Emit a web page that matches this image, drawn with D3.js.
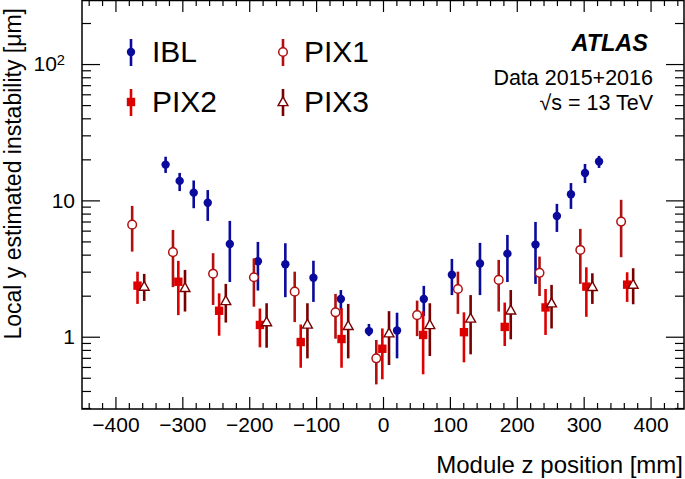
<!DOCTYPE html>
<html><head><meta charset="utf-8">
<script src="https://cdn.jsdelivr.net/npm/d3@7"></script>
<style>
body{margin:0;background:#fff}
svg{display:block;font-family:"Liberation Sans",Arial,Helvetica,sans-serif}
</style>
</head><body>
<svg id="c" width="685" height="479"></svg>
<script>
// ---- data ----
const iblZ   = [-325,-304,-283,-262,-229,-187,-146,-104,-63,-21,21,61,103,145,186,228,260,281,302,323];
const iblVal = [18.3,13.9,11.4,9.6,4.79,3.58,3.40,2.71,1.89,1.10,1.11,1.89,2.85,3.44,4.07,4.74,7.69,11.1,15.9,19.3];
const iblLo  = [15.9,11.7,8.76,7.07,2.52,2.18,1.95,1.80,1.57,1.01,0.694,1.42,2.02,2.02,2.52,2.44,5.87,8.66,13.4,17.3];
const iblHi  = [20.9,15.9,14.0,11.9,7.07,4.96,4.85,3.61,2.20,1.24,1.50,2.36,3.72,4.88,5.58,6.95,9.43,13.4,18.5,21.2];

const pix1Z   = [-375,-314,-254,-193,-132,-71,-10,51,112,173,234,295,356];
const pix1Val = [6.64,4.17,2.90,2.73,2.14,1.51,0.694,1.44,2.24,2.61,2.94,4.33,6.99];
const pix1Lo  = [4.21,2.31,1.71,1.66,1.28,0.967,0.447,1.01,1.47,1.53,1.99,2.44,3.83];
const pix1Hi  = [9.11,6.07,4.10,3.76,3.00,2.06,0.946,1.84,3.00,3.66,3.87,6.18,10.1];

const pix2Z   = [-367,-306,-245,-184,-123,-62,-1,60,121,182,243,304,365];
const pix2Val = [2.37,2.53,1.55,1.22,0.914,0.962,0.816,1.03,1.08,1.18,1.64,2.33,2.41];
const pix2Lo  = [1.74,1.44,1.017,0.836,0.592,0.592,0.487,0.530,0.649,0.855,1.03,1.40,1.80];
const pix2Hi  = [3.00,3.60,2.08,1.61,1.23,1.62,1.15,1.54,1.51,1.78,2.24,3.23,2.97];

const pix3Z   = [-357,-296,-235,-174,-113,-52,9,70,131,191,252,313,374];
const pix3Val = [2.33,2.28,1.83,1.28,1.23,1.20,1.06,1.22,1.36,1.56,1.76,2.32,2.41];
const pix3Lo  = [1.83,1.53,1.27,0.830,0.694,0.694,0.620,0.722,0.743,0.957,1.15,1.74,1.73];
const pix3Hi  = [2.89,3.09,2.44,1.76,1.76,1.74,1.54,1.76,2.02,2.20,2.40,2.92,3.18];

const seriesNames = ["IBL","PIX1","PIX2","PIX3"];
const xTicks = [-400,-300,-200,-100,0,100,200,300,400];
const yTicks = [1,10,100];
const xTitle = "Module z position [mm]";
const yTitle = "Local y estimated instability [\u03bcm]";

// ---- layout ----
const L = 82, R = 684, T = 0, B = 409;
const svg = d3.select("#c");
const x = d3.scaleLinear().domain([-450,450]).range([L,R]);
const y = d3.scaleLog().domain([0.295,295]).range([B,T]);

const xMinor = d3.range(-440,441,20).filter(v => v % 100 !== 0);
const yMinor = [];
[0.1,1,10,100].forEach(d => { for (let k=2;k<=9;k++){ const v=d*k; if (v>0.295 && v<295 && v!==1 && v!==10 && v!==100) yMinor.push(v);} });

const fs = 21;
// bottom axis
const gB = svg.append("g").attr("transform",`translate(0,${B})`);
gB.call(d3.axisBottom(x).tickValues(xTicks).tickSize(-12).tickPadding(8));
gB.append("g").call(d3.axisBottom(x).tickValues(xMinor).tickSize(-6).tickFormat(""));
// top axis
const gT = svg.append("g").attr("transform",`translate(0,${T})`);
gT.call(d3.axisTop(x).tickValues(xTicks).tickSize(-12).tickFormat(""));
gT.append("g").call(d3.axisTop(x).tickValues(xMinor).tickSize(-6).tickFormat(""));
// left axis
const gL = svg.append("g").attr("transform",`translate(${L},0)`);
gL.call(d3.axisLeft(y).tickValues(yTicks).tickSize(-18).tickPadding(7).tickFormat(d => d===100 ? "10" : String(d)));
gL.append("g").call(d3.axisLeft(y).tickValues(yMinor).tickSize(-9).tickFormat(""));
gL.selectAll(".tick text").filter(d => d===100).append("tspan").attr("dy","-0.45em").attr("font-size",fs*0.7).text("2");
gL.selectAll(".tick text").filter(d => d===100).attr("dx","-10");
// right axis
const gR = svg.append("g").attr("transform",`translate(${R},0)`);
gR.call(d3.axisRight(y).tickValues(yTicks).tickSize(-18).tickFormat(""));
gR.append("g").call(d3.axisRight(y).tickValues(yMinor).tickSize(-9).tickFormat(""));

svg.selectAll(".domain").remove();
svg.selectAll(".tick line").attr("stroke","#000").attr("stroke-width",1.2);
svg.selectAll(".tick text").attr("font-size",fs).attr("font-family","'Liberation Sans',Arial,sans-serif").attr("fill","#000");

// frame
svg.append("rect").attr("x",L).attr("y",T+0.5).attr("width",R-L).attr("height",B-T-0.5)
  .attr("fill","none").attr("stroke","#000").attr("stroke-width",1.5);

// titles
svg.append("text").attr("x",R-1).attr("y",473).attr("text-anchor","end")
  .attr("font-size",24).text(xTitle);
svg.append("text").attr("transform",`translate(21,8) rotate(-90)`).attr("text-anchor","end")
  .attr("font-size",23).text(yTitle);

// ---- series ----
const colors = {IBL:"#0a0a9c", PIX1:"#b01010", PIX2:"#dd0000", PIX3:"#780000"};
const mk = (z,v,lo,hi) => z.map((d,i)=>({z:d,v:v[i],lo:lo[i],hi:hi[i]}));
const series = [
  {name:"IBL",  data:mk(iblZ,iblVal,iblLo,iblHi)},
  {name:"PIX1", data:mk(pix1Z,pix1Val,pix1Lo,pix1Hi)},
  {name:"PIX2", data:mk(pix2Z,pix2Val,pix2Lo,pix2Hi)},
  {name:"PIX3", data:mk(pix3Z,pix3Val,pix3Lo,pix3Hi)}
];

function marker(g, name, cx, cy){
  const c = colors[name];
  if (name==="IBL") g.append("circle").attr("cx",cx).attr("cy",cy).attr("r",4.2).attr("fill",c);
  else if (name==="PIX1") g.append("circle").attr("cx",cx).attr("cy",cy).attr("r",4.3).attr("fill","#fff").attr("stroke",c).attr("stroke-width",1.5);
  else if (name==="PIX2") g.append("rect").attr("x",cx-4.2).attr("y",cy-4.2).attr("width",8.4).attr("height",8.4).attr("fill",c);
  else {
    const s=5.2;
    g.append("path").attr("d",`M${cx},${cy-s}L${cx+s*0.95},${cy+s*0.7}L${cx-s*0.95},${cy+s*0.7}Z`)
      .attr("fill","#fff").attr("stroke",c).attr("stroke-width",1.4).attr("stroke-linejoin","miter");
  }
}

const plot = svg.append("g");
series.forEach(s => {
  const g = plot.append("g");
  g.selectAll("line").data(s.data).join("line")
    .attr("x1",d=>x(d.z)).attr("x2",d=>x(d.z))
    .attr("y1",d=>y(d.lo)).attr("y2",d=>y(d.hi))
    .attr("stroke",colors[s.name]).attr("stroke-width",2.6);
  s.data.forEach(d => marker(g, s.name, x(d.z), y(d.v)));
});

// ---- legend ----
const leg = [
  {name:"IBL",  mx:131, my:52,  tx:152, ty:62},
  {name:"PIX1", mx:283, my:52,  tx:304, ty:62},
  {name:"PIX2", mx:131, my:102, tx:152, ty:112},
  {name:"PIX3", mx:283, my:102, tx:304, ty:112}
];
const gLeg = svg.append("g");
leg.forEach(e => {
  gLeg.append("line").attr("x1",e.mx).attr("x2",e.mx).attr("y1",e.my-13).attr("y2",e.my+14)
    .attr("stroke",colors[e.name]).attr("stroke-width",2.6);
  marker(gLeg, e.name, e.mx, e.my);
  gLeg.append("text").attr("x",e.tx).attr("y",e.ty).attr("font-size",30).text(e.name);
});

// ---- ATLAS label ----
svg.append("text").attr("x",648).attr("y",51).attr("text-anchor","end")
  .attr("font-size",23.5).attr("font-weight","bold").attr("font-style","italic").text("ATLAS");
svg.append("text").attr("x",653).attr("y",85).attr("text-anchor","end")
  .attr("font-size",21.5).text("Data 2015+2016");
const sq = svg.append("text").attr("x",653).attr("y",110).attr("text-anchor","end").attr("font-size",21.5);
sq.append("tspan").text("\u221a");
sq.append("tspan").text("s = 13 TeV");
</script>
</body></html>
